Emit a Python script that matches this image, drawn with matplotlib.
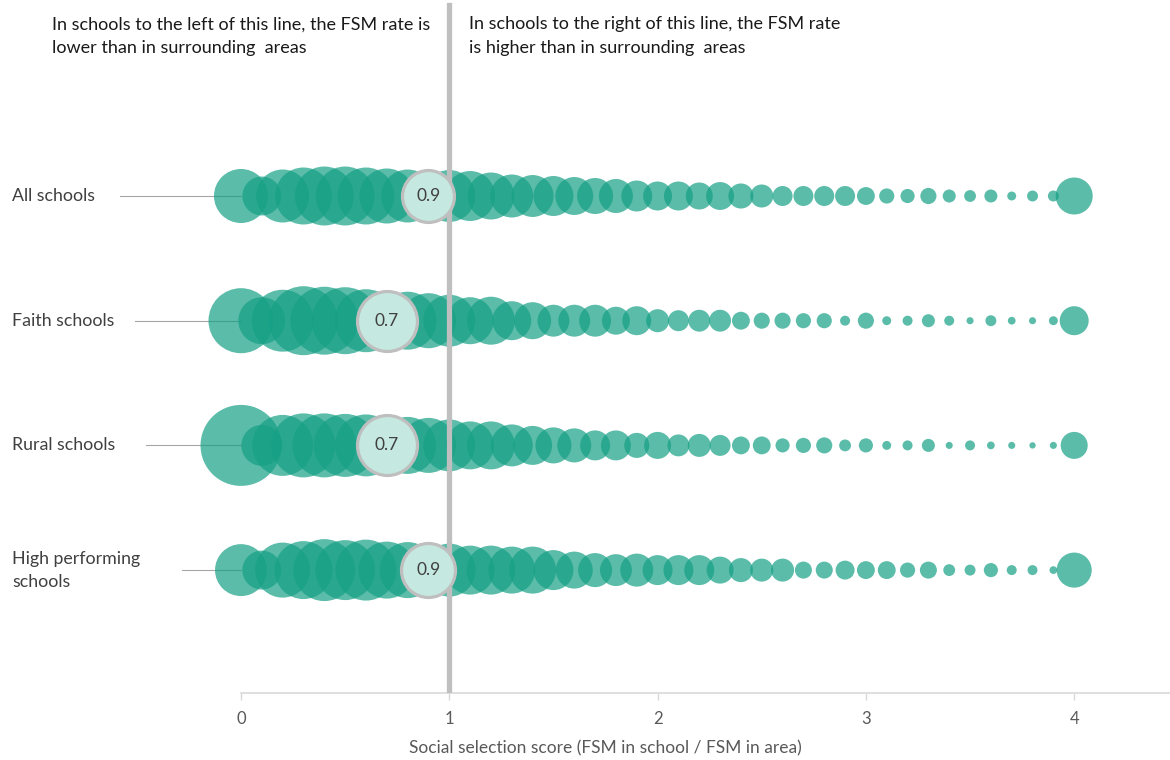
import numpy as np
import matplotlib
matplotlib.use('Agg')
import matplotlib.pyplot as plt

plt.rcParams['font.family'] = ['Lato', 'DejaVu Sans']

# Categorias (linhas) e escores de selecao social (0 a 3.9, depois 4+)
grupos = ['All schools', 'Faith schools', 'Rural schools', 'High performing\nschools']
escores = [round(0.1 * i, 1) for i in range(40)] + [4.0]
medianas = [0.9, 0.7, 0.7, 0.9]

todas = [292, 152, 281, 325, 348, 348, 325, 303, 281, 270, 270, 250, 221, 185, 176, 160, 144, 130, 116, 96,
         84, 84, 73, 78, 63, 53, 40, 40, 40, 40, 32, 23, 20, 26, 17, 14, 17, 8, 12, 12, 137]
religiosas = [423, 221, 384, 476, 462, 449, 397, 360, 336, 303, 270, 221, 230, 152, 137, 102, 102, 102, 78, 84,
              53, 44, 48, 48, 32, 26, 26, 23, 23, 10, 26, 8, 10, 17, 10, 5, 12, 6, 5, 8, 84]
rurais = [656, 168, 372, 410, 410, 397, 384, 360, 325, 303, 270, 230, 230, 176, 152, 130, 116, 90, 90, 63,
          73, 48, 53, 44, 32, 32, 20, 23, 26, 14, 20, 8, 10, 17, 5, 10, 6, 5, 4, 5, 73]
alto_desempenho = [270, 152, 303, 336, 384, 360, 372, 325, 314, 292, 281, 240, 240, 221, 221, 160, 137, 116, 102, 109,
                   90, 90, 90, 73, 58, 53, 53, 29, 29, 36, 32, 32, 23, 29, 14, 12, 20, 10, 10, 6, 123]
series = [todas, religiosas, rurais, alto_desempenho]

escala = 5.18  # area do marcador por escola
verde = '#16a085'
cinza_texto = '#404040'

fig = plt.figure(figsize=(11.7, 7.6), dpi=100)
ax = fig.add_axes([0, 67 / 760, 1, 693 / 760])

for i, valores in enumerate(series):
    ax.scatter(escores, [i] * len(escores), s=np.array(valores) * escala,
               color=verde, alpha=0.7, linewidths=0, zorder=2)
    k = escores.index(medianas[i])
    ax.scatter([medianas[i]], [i], s=valores[k] * escala, color='#c5e8e0',
               edgecolors='#bfbfbf', linewidths=2.3, zorder=4)
    ax.text(medianas[i], i, f'{medianas[i]:.1f}', ha='center', va='center',
            fontsize=12.5, color=cinza_texto, zorder=5)

# Rotulos das linhas com conectores
inicio_linha = [-0.581, -0.509, -0.456, -0.283]
for i, nome in enumerate(grupos):
    ax.text(-1.099, i, nome, ha='left', va='center', fontsize=12.8,
            color=cinza_texto, linespacing=1.55)
    ax.plot([inicio_linha[i], 0], [i, i], color='#a6a6a6', lw=0.8, zorder=1)

# Linha vertical em 1
ax.axvline(1, ymin=0, ymax=688 / 693, color='#bfbfbf', lw=3.8, zorder=3)

ax.set_xlim(-241 / 208.3, (1170 - 241) / 208.3)
ax.set_ylim((693 - 196) / 124.7, -196 / 124.7)

for lado in ['top', 'right', 'left']:
    ax.spines[lado].set_visible(False)
ax.spines['bottom'].set_color('#d9d9d9')
ax.spines['bottom'].set_linewidth(1.2)
ax.spines['bottom'].set_bounds(0, (1170 - 241) / 208.3)
ax.set_yticks([])
ax.set_xticks([0, 1, 2, 3, 4])
ax.tick_params(axis='x', length=5, width=1, color='#d9d9d9', labelcolor='#595959',
               labelsize=12, pad=8)

fig.text(605 / 1170, 1 - 748 / 760, 'Social selection score (FSM in school / FSM in area)',
         ha='center', va='center', fontsize=12.5, color='#595959')

fig.text(52 / 1170, 1 - 36 / 760,
         'In schools to the left of this line, the FSM rate is\nlower than in surrounding  areas',
         ha='left', va='center', fontsize=13, color='#1a1a1a', linespacing=1.55)
fig.text(469 / 1170, 1 - 36 / 760,
         'In schools to the right of this line, the FSM rate\nis higher than in surrounding  areas',
         ha='left', va='center', fontsize=13, color='#1a1a1a', linespacing=1.55)

fig.savefig('out.png', dpi=100)
